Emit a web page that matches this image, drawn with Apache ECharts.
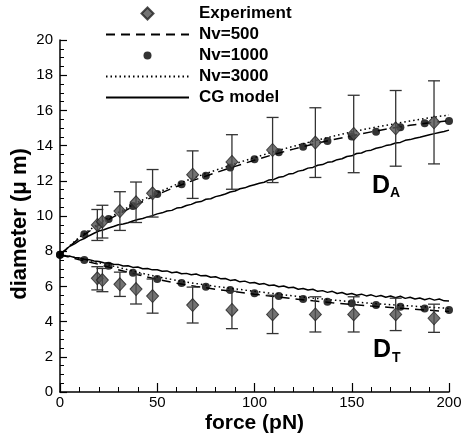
<!DOCTYPE html>
<html><head><meta charset="utf-8">
<script src="https://cdn.jsdelivr.net/npm/echarts@6/dist/echarts.min.js"></script>
<style>html,body{margin:0;padding:0;background:#fff}#c{width:464px;height:441px}</style>
</head><body><div id="c"></div>
<script>
// ---- data ----
const expX = [19.2, 21.8, 30.8, 39.1, 47.6, 68.2, 88.4, 109.3, 131.3, 151.0, 172.6, 192.3];
const expA = [9.49, 9.68, 10.28, 10.78, 11.29, 12.35, 13.07, 13.75, 14.17, 14.66, 14.98, 15.32];
const errA = [0.88, 0.93, 1.1, 1.15, 1.35, 1.35, 1.55, 1.85, 1.98, 2.2, 2.15, 2.36];
const expT = [6.46, 6.36, 6.12, 5.85, 5.45, 4.94, 4.66, 4.41, 4.41, 4.41, 4.41, 4.19];
const errT = [0.66, 0.66, 0.69, 0.85, 0.97, 1.02, 1.06, 1.09, 1.0, 1.0, 0.92, 0.8];

const nv1000X = [0, 12.5, 25, 37.5, 50, 62.5, 75, 87.5, 100, 112.5, 125, 137.5, 150, 162.5, 175, 187.5, 200];
const nv1000A = [7.8, 8.96, 9.83, 10.57, 11.25, 11.8, 12.29, 12.75, 13.22, 13.62, 13.94, 14.26, 14.52, 14.79, 15.04, 15.27, 15.40];
const nv1000T = [7.8, 7.5, 7.18, 6.78, 6.42, 6.2, 5.98, 5.8, 5.61, 5.45, 5.28, 5.13, 5.04, 4.94, 4.85, 4.75, 4.66];

const nvLineX = [0, 10, 20, 30, 40, 50, 60, 70, 80, 90, 100, 110, 120, 130, 140, 150, 160, 170, 180, 190, 200];
const nv500A = [7.8, 8.75, 9.5, 10.1, 10.68, 11.22, 11.68, 12.08, 12.46, 12.82, 13.17, 13.5, 13.8, 14.08, 14.33, 14.56, 14.78, 14.98, 15.15, 15.3, 15.42];
const nv500T = [7.8, 7.52, 7.25, 6.95, 6.66, 6.4, 6.18, 6.0, 5.84, 5.7, 5.56, 5.43, 5.3, 5.18, 5.07, 4.97, 4.88, 4.8, 4.72, 4.64, 4.57];
const nv3000A = [7.8, 8.8, 9.58, 10.2, 10.78, 11.32, 11.8, 12.22, 12.6, 12.97, 13.32, 13.66, 13.96, 14.25, 14.52, 14.78, 15.0, 15.2, 15.4, 15.58, 15.74];
const nv3000T = [7.8, 7.6, 7.35, 7.08, 6.8, 6.55, 6.34, 6.16, 6.0, 5.86, 5.72, 5.59, 5.46, 5.34, 5.23, 5.13, 5.04, 4.96, 4.89, 4.82, 4.75];

const cgX = [0,2.5,5,7.5,10,12.5,15,17.5,20,22.5,25,27.5,30,32.5,35,37.5,40,42.5,45,47.5,50,52.5,55,57.5,60,62.5,65,67.5,70,72.5,75,77.5,80,82.5,85,87.5,90,92.5,95,97.5,100,102.5,105,107.5,110,112.5,115,117.5,120,122.5,125,127.5,130,132.5,135,137.5,140,142.5,145,147.5,150,152.5,155,157.5,160,162.5,165,167.5,170,172.5,175,177.5,180,182.5,185,187.5,190,192.5,195,197.5,200];
const cgA = [7.80,8.05,8.28,8.42,8.60,8.72,8.88,9.02,9.15,9.22,9.32,9.40,9.50,9.55,9.62,9.72,9.80,9.86,9.95,10.02,10.12,10.18,10.28,10.32,10.45,10.48,10.60,10.66,10.78,10.82,10.95,10.98,11.10,11.16,11.25,11.36,11.42,11.55,11.60,11.70,11.78,11.86,11.92,12.05,12.08,12.20,12.25,12.38,12.42,12.55,12.60,12.72,12.76,12.88,12.92,13.05,13.08,13.20,13.25,13.38,13.42,13.55,13.58,13.70,13.74,13.85,13.90,14.00,14.05,14.15,14.18,14.30,14.34,14.42,14.48,14.55,14.62,14.68,14.75,14.80,14.88];
const cgT = [7.80,7.74,7.72,7.64,7.62,7.54,7.52,7.44,7.42,7.34,7.33,7.26,7.25,7.16,7.17,7.08,7.10,7.00,7.02,6.94,6.95,6.86,6.88,6.78,6.82,6.72,6.74,6.66,6.70,6.60,6.62,6.52,6.55,6.44,6.45,6.34,6.38,6.26,6.30,6.20,6.22,6.12,6.16,6.05,6.08,5.98,6.02,5.92,5.95,5.84,5.88,5.80,5.84,5.72,5.76,5.66,5.72,5.60,5.65,5.54,5.60,5.50,5.56,5.46,5.52,5.42,5.48,5.38,5.45,5.36,5.44,5.32,5.38,5.28,5.34,5.24,5.32,5.22,5.28,5.18,5.17];

const xTicks = [0, 50, 100, 150, 200];
const yTicks = [0, 2, 4, 6, 8, 10, 12, 14, 16, 18, 20];

// ---- build ----
const pairs = (xs, ys) => xs.map((x, i) => [x, ys[i]]);
const errData = expX.map((x, i) => [x, expA[i] - errA[i], expA[i] + errA[i]])
  .concat(expX.map((x, i) => [x, expT[i] - errT[i], expT[i] + errT[i]]));
const FONT = 'Liberation Sans, Arial, Helvetica, sans-serif';

const chart = echarts.init(document.getElementById('c'), null, {renderer: 'canvas'});
const lineSeries = (name, data, type, z) => ({
  name, type: 'line', data, symbol: 'none', showSymbol: false, smooth: false, z: z || 3,
  lineStyle: {color: '#000', width: 1.5, type},
  itemStyle: {color: '#000'}
});
const noSym = {color: 'rgba(0,0,0,0)', opacity: 0, borderWidth: 0};
chart.setOption({
  animation: false,
  backgroundColor: '#fff',
  grid: {left: 60, right: 15, top: 40, bottom: 49, containLabel: false, outerBoundsMode: 'none'},
  legend: {
    orient: 'vertical', left: 100, top: 0, itemWidth: 83, itemHeight: 14, itemGap: 4,
    textStyle: {fontFamily: FONT, fontWeight: 'bold', fontSize: 17, color: '#000', padding: [0, 0, 0, 5]},
    data: [
      {name: 'Experiment', icon: 'path://M0,0 M14,14 M7,1 L13,7 L7,13 L1,7 Z'},
      {name: 'Nv=500', itemStyle: noSym},
      {name: 'Nv=1000', icon: 'path://M0,0 M14,14 M7,3 A4,4 0 1 1 7,11 A4,4 0 1 1 7,3 Z'},
      {name: 'Nv=3000', itemStyle: noSym},
      {name: 'CG model', itemStyle: noSym}
    ]
  },
  xAxis: {
    type: 'value', min: 0, max: 200, interval: 50,
    name: 'force (pN)', nameLocation: 'middle', nameGap: 21, nameMoveOverlap: false,
    nameTextStyle: {fontFamily: FONT, fontWeight: 'bold', fontSize: 21, color: '#000'},
    axisLine: {lineStyle: {color: '#000', width: 1.5}},
    axisTick: {inside: true, length: 9, lineStyle: {color: '#000', width: 1.2}},
    minorTick: {show: true, splitNumber: 5, length: 5, lineStyle: {color: '#000', width: 1}},
    axisLabel: {fontFamily: FONT, fontSize: 15, color: '#000', margin: 3,
      formatter: v => xTicks.includes(v) ? String(v) : ''},
    splitLine: {show: false}
  },
  yAxis: {
    type: 'value', min: 0, max: 20, interval: 2,
    name: 'diameter (μ m)', nameLocation: 'middle', nameGap: 29, nameMoveOverlap: false,
    nameTextStyle: {fontFamily: FONT, fontWeight: 'bold', fontSize: 22, color: '#000', padding: [0, 16, 0, 0]},
    axisLine: {lineStyle: {color: '#000', width: 1.5}},
    axisTick: {inside: true, length: 7, lineStyle: {color: '#000', width: 1.2}},
    minorTick: {show: true, splitNumber: 4, length: 4, lineStyle: {color: '#000', width: 1}},
    axisLabel: {fontFamily: FONT, fontSize: 15, color: '#000', margin: 7,
      formatter: v => yTicks.includes(v) ? String(v) : ''},
    splitLine: {show: false}
  },
  series: [
    lineSeries('CG model', pairs(cgX, cgA), 'solid', 2),
    lineSeries('CG model', pairs(cgX, cgT), 'solid', 2),
    lineSeries('Nv=500', pairs(nvLineX, nv500A), [9, 6], 3),
    lineSeries('Nv=500', pairs(nvLineX, nv500T), [9, 6], 3),
    lineSeries('Nv=3000', pairs(nvLineX, nv3000A), [1.5, 3], 3),
    lineSeries('Nv=3000', pairs(nvLineX, nv3000T), [1.5, 3], 3),
    {
      name: 'Nv=1000', type: 'scatter', symbol: 'circle', symbolSize: 8, z: 4,
      itemStyle: {color: '#000'},
      data: pairs(nv1000X, nv1000A).concat(pairs(nv1000X, nv1000T))
    },
    {
      name: 'errbar', type: 'custom', z: 5,
      renderItem: (params, api) => {
        const x = api.value(0);
        const lo = api.coord([x, api.value(1)]);
        const hi = api.coord([x, api.value(2)]);
        const w = 6;
        const st = {stroke: '#333', lineWidth: 1.3};
        return {type: 'group', children: [
          {type: 'line', shape: {x1: lo[0], y1: lo[1], x2: hi[0], y2: hi[1]}, style: st},
          {type: 'line', shape: {x1: lo[0] - w, y1: lo[1], x2: lo[0] + w, y2: lo[1]}, style: st},
          {type: 'line', shape: {x1: hi[0] - w, y1: hi[1], x2: hi[0] + w, y2: hi[1]}, style: st}
        ]};
      },
      encode: {x: 0, y: [1, 2]},
      data: errData
    },
    {
      name: 'Experiment', type: 'scatter', symbol: 'diamond', symbolSize: [12, 13], z: 6,
      itemStyle: {color: '#505050', borderColor: '#222', borderWidth: 1},
      data: pairs(expX, expA).concat(pairs(expX, expT))
    }
  ],
  graphic: [
    {type: 'text', left: 372, top: 174, style: {text: 'D', font: 'bold 25px ' + FONT, fill: '#000'}},
    {type: 'text', left: 390, top: 186, style: {text: 'A', font: 'bold 14px ' + FONT, fill: '#000'}},
    {type: 'text', left: 373, top: 338, style: {text: 'D', font: 'bold 25px ' + FONT, fill: '#000'}},
    {type: 'text', left: 392, top: 351, style: {text: 'T', font: 'bold 14px ' + FONT, fill: '#000'}}
  ]
});
</script>
</body></html>
